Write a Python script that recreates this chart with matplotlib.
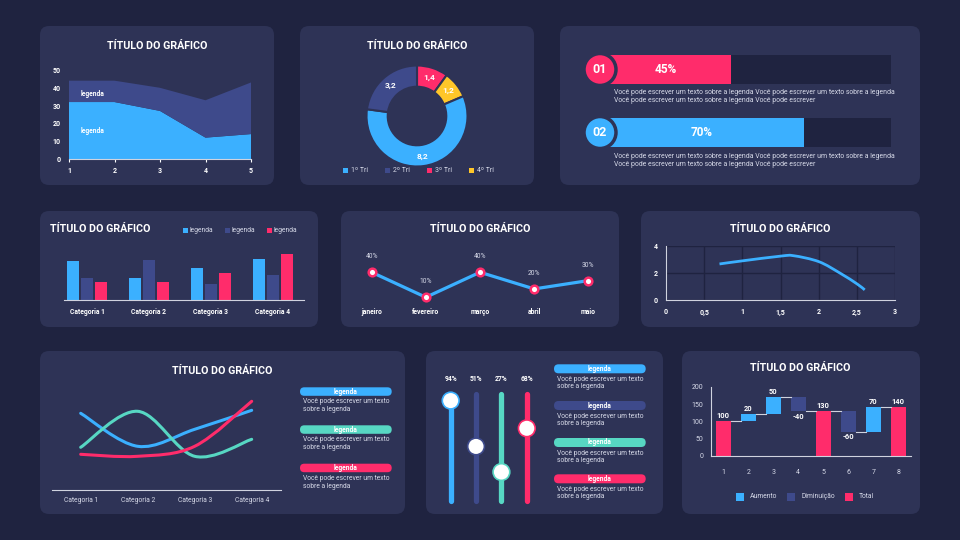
import numpy as np
import matplotlib.pyplot as plt
from matplotlib.patches import FancyBboxPatch, Rectangle, PathPatch
from matplotlib.path import Path

plt.rcParams['font.family'] = ['Roboto', 'DejaVu Sans']

# colours
BG = '#1f2340'
PANEL = '#2e3356'
BLUE = '#3bb0ff'
DBLUE = '#3e4a8b'
PINK = '#ff2c6b'
TEAL = '#57d7c3'
YELLOW = '#ffc629'
WHITE = '#ffffff'
SUB = '#d6d9e8'
AXIS = '#d0d3df'

TITLE = 'TÍTULO DO GRÁFICO'
DESC_SHORT = ['Você pode escrever um texto', 'sobre a legenda']
DESC_LONG = ['Você pode escrever um texto sobre a legenda Você pode escrever um texto sobre a legenda',
             'Você pode escrever um texto sobre a legenda Você pode escrever']

# ---- data ----
# area chart
area_x = [1, 2, 3, 4, 5]
area_s1 = [32, 32, 27, 12, 14]
area_s2 = [12, 12, 13, 21, 29]

# donut
tri_labels = ['1º Tri', '2º Tri', '3º Tri', '4º Tri']
tri_values = [8.2, 3.2, 1.4, 1.2]

# progress bars
prog_ids = ['01', '02']
prog_values = [45, 70]

# grouped bars
cat_labels = ['Categoria 1', 'Categoria 2', 'Categoria 3', 'Categoria 4']
grp_blue = [39, 22, 32, 41]
grp_dark = [22, 40, 16, 25]
grp_pink = [18, 18, 27, 46]

# line with markers
months = ['janeiro', 'fevereiro', 'março', 'abril', 'maio']
month_values = [40, 10, 40, 20, 30]

# smooth curve (scatter with smooth line)
curve_x = [0.7, 1.0, 1.5, 1.67, 2.0, 2.28, 2.5, 2.6]
curve_y = [2.67, 2.9, 3.25, 3.28, 2.84, 1.98, 1.19, 0.75]
curve_xticks = [0, 0.5, 1, 1.5, 2, 2.5, 3]
curve_yticks = [0, 2, 4]

# smooth lines
sl_blue = [7.7, 4.4, 6.1, 8.0]
sl_teal = [4.3, 7.9, 3.4, 5.1]
sl_pink = [3.6, 3.4, 4.4, 8.9]

# sliders
slider_values = [94, 51, 27, 68]

# waterfall
wf_steps = [100, 20, 50, -40, 130, -60, 70, 140]
wf_kind = ['total', 'inc', 'inc', 'dec', 'total', 'dec', 'inc', 'total']
wf_legend = ['Aumento', 'Diminuição', 'Total']

W, H = 960, 540
fig = plt.figure(figsize=(9.6, 5.4), dpi=100, facecolor=BG)
bg = fig.add_axes([0, 0, 1, 1])
bg.set_xlim(0, W)
bg.set_ylim(H, 0)
bg.axis('off')


def ax_at(l, t, r, b):
    a = fig.add_axes([l / W, 1 - b / H, (r - l) / W, (b - t) / H])
    a.patch.set_alpha(0)
    for s in a.spines.values():
        s.set_visible(False)
    return a


def panel(x0, y0, x1, y1):
    bg.add_patch(FancyBboxPatch((x0, y0), x1 - x0, y1 - y0,
                                boxstyle='round,pad=0,rounding_size=9',
                                fc=PANEL, ec='none'))


def title(x, y, ha='center'):
    bg.text(x, y, TITLE, color=WHITE, fontsize=7.7, fontweight='bold',
            ha=ha, va='center')


def pill(x0, y0, x1, y1, color, label='legenda'):
    h = y1 - y0
    bg.add_patch(FancyBboxPatch((x0, y0), x1 - x0, h,
                                boxstyle=f'round,pad=0,rounding_size={h / 2}',
                                fc=color, ec='none'))
    bg.text((x0 + x1) / 2, (y0 + y1) / 2, label, color=WHITE, fontsize=4.8,
            fontweight='bold', ha='center', va='center')


def desc(x, y, lines, step=7.5, size=4.9):
    for i, ln in enumerate(lines):
        bg.text(x, y + i * step, ln, color=SUB, fontsize=size, ha='left', va='center')


def smooth(xs, ys):
    p = np.column_stack([xs, ys]).astype(float)
    pts = np.vstack([p[0], p, p[-1]])
    verts = [p[0]]
    codes = [Path.MOVETO]
    for i in range(1, len(pts) - 2):
        c1 = pts[i] + (pts[i + 1] - pts[i - 1]) / 6
        c2 = pts[i + 1] - (pts[i + 2] - pts[i]) / 6
        verts += [c1, c2, pts[i + 1]]
        codes += [Path.CURVE4] * 3
    return Path(verts, codes)


def tick_style(a, size=5, weight='bold', color=WHITE):
    a.tick_params(colors=color, labelsize=size)
    for lb in a.get_xticklabels() + a.get_yticklabels():
        lb.set_fontweight(weight)


# panels
panel(40, 26, 274, 185)
panel(300, 26, 534, 185)
panel(560, 26, 920, 185)
panel(40, 211, 318, 327)
panel(341, 211, 619, 327)
panel(641, 211, 920, 327)
panel(40, 351, 405, 514)
panel(426, 351, 663, 514)
panel(682, 351, 920, 514)

# ---- 1: stacked area ----
title(157, 46)
ax1 = ax_at(69, 70, 251, 159)
ax1.stackplot(area_x, area_s1, area_s2, colors=[BLUE, DBLUE])
ax1.set_xlim(1, 5)
ax1.set_ylim(0, 50)
ax1.set_xticks(area_x)
ax1.set_yticks(range(0, 51, 10))
ax1.spines['bottom'].set_visible(True)
ax1.spines['bottom'].set_color(AXIS)
ax1.tick_params(axis='x', length=2, color=AXIS, pad=4)
ax1.tick_params(axis='y', length=0, pad=6)
tick_style(ax1)
ax1.text(1.26, 36.7, 'legenda', color=WHITE, fontsize=4.8, fontweight='bold', va='center')
ax1.text(1.26, 15.9, 'legenda', color=WHITE, fontsize=4.8, fontweight='bold', va='center')

# ---- 2: donut ----
title(417, 46)
ax2 = ax_at(366.5, 65.5, 467.5, 166.5)
tri_colors = [BLUE, DBLUE, PINK, YELLOW]
order = [2, 3, 0, 1]
wedges, texts = ax2.pie([tri_values[i] for i in order],
                        colors=[tri_colors[i] for i in order],
                        labels=[f'{tri_values[i]:g}'.replace('.', ',') for i in order],
                        labeldistance=0.8, startangle=90, counterclock=False,
                        wedgeprops=dict(width=0.42, edgecolor=PANEL, linewidth=1.5),
                        textprops=dict(color=WHITE, fontsize=6, fontweight='bold',
                                       ha='center', va='center'))
ax2.set_xlim(-1, 1)
ax2.set_ylim(-1, 1)
for i, (lab, col) in enumerate(zip(tri_labels, tri_colors)):
    x = 345.7 + i * 42
    bg.add_patch(Rectangle((x - 2.5, 167.5), 5, 5, fc=col, ec='none'))
    bg.text(x + 5, 170, lab, color=SUB, fontsize=5, va='center', ha='left')

# ---- 3: progress bars ----
ax3 = ax_at(600, 40, 891, 162)
prog_colors = [PINK, BLUE]
ypos = np.arange(len(prog_values))
ax3.barh(ypos, [100] * len(prog_values), height=0.46, color=BG)
ax3.barh(ypos, prog_values, height=0.46, color=prog_colors)
ax3.scatter([0] * len(prog_values), ypos, s=530, c=prog_colors, edgecolors=PANEL,
            linewidths=2.5, zorder=3, clip_on=False)
for y, v, pid in zip(ypos, prog_values, prog_ids):
    ax3.text(0, y, pid, color=WHITE, fontsize=9, fontweight='bold',
             ha='center', va='center', zorder=4)
    ax3.text(v / 2, y, f'{v}%', color=WHITE, fontsize=8.5, fontweight='bold',
             ha='center', va='center')
ax3.set_xlim(0, 100)
ax3.set_ylim(1.468, -0.468)
ax3.set_xticks([])
ax3.set_yticks([])
desc(614, 92, DESC_LONG, step=8, size=4.95)
desc(614, 156, DESC_LONG, step=8, size=4.95)

# ---- 4: grouped bars ----
title(50, 229, ha='left')
for i, (lab, col) in enumerate(zip(['legenda'] * 3, [BLUE, DBLUE, PINK])):
    x = 185.7 + i * 41.7
    bg.add_patch(Rectangle((x - 2.5, 227.5), 5, 5, fc=col, ec='none'))
    bg.text(x + 4, 230, lab, color=SUB, fontsize=4.9, va='center', ha='left')
ax4 = ax_at(64, 250, 304, 300)
xc = np.arange(len(cat_labels))
for off, vals, col in zip([-0.226, 0, 0.226], [grp_blue, grp_dark, grp_pink], [BLUE, DBLUE, PINK]):
    ax4.bar(xc + off, vals, width=0.18, color=col)
ax4.set_xlim(-0.37, 3.5)
ax4.set_ylim(0, 50)
ax4.set_xticks(xc)
ax4.set_xticklabels(cat_labels)
ax4.set_yticks([])
ax4.spines['bottom'].set_visible(True)
ax4.spines['bottom'].set_color(AXIS)
ax4.tick_params(axis='x', length=0, pad=6)
tick_style(ax4, size=4.9)

# ---- 5: line with markers ----
title(480, 229)
ax5 = ax_at(350, 250, 610, 305.6)
xm = np.arange(len(months))
ax5.plot(xm, month_values, color=BLUE, lw=2.3, marker='o', ms=5.5, mfc=WHITE,
         mec=PINK, mew=1.8, solid_joinstyle='round')
for x, v in zip(xm, month_values):
    ax5.annotate(f'{v}%', (x, v), xytext=(0, 11), textcoords='offset points',
                 color=SUB, fontsize=4.9, ha='center', va='center')
ax5.set_xlim(-0.4, 4.4)
ax5.set_ylim(0, 66.7)
ax5.set_xticks(xm)
ax5.set_xticklabels(months)
ax5.set_yticks([])
ax5.tick_params(axis='x', length=0, pad=1.5)
tick_style(ax5, size=4.9)

# ---- 6: smooth curve with grid ----
title(780, 229)
ax6 = ax_at(666, 246, 895.3, 300)
ax6.add_patch(PathPatch(smooth(curve_x, curve_y), fc='none', ec=BLUE, lw=2))
ax6.set_xlim(0, 3)
ax6.set_ylim(0, 4)
ax6.set_xticks(curve_xticks)
ax6.set_xticklabels([f'{v:g}'.replace('.', ',') for v in curve_xticks])
ax6.set_yticks(curve_yticks)
ax6.grid(True, color=BG, lw=1)
ax6.set_axisbelow(True)
for s in ['bottom', 'left']:
    ax6.spines[s].set_visible(True)
    ax6.spines[s].set_color(AXIS)
ax6.tick_params(length=0)
ax6.tick_params(axis='x', pad=6)
ax6.tick_params(axis='y', pad=6)
tick_style(ax6, size=5)

# ---- 7: smooth lines ----
title(222.7, 370.7)
ax7 = ax_at(52.3, 380.3, 280.7, 490.3)
xs7 = np.arange(len(cat_labels))
for vals, col in zip([sl_blue, sl_teal, sl_pink], [BLUE, TEAL, PINK]):
    ax7.add_patch(PathPatch(smooth(xs7, vals), fc='none', ec=col, lw=2.2, capstyle='round'))
ax7.set_xlim(-0.498, 3.509)
ax7.set_ylim(0, 11)
ax7.set_xticks(xs7)
ax7.set_xticklabels(cat_labels)
ax7.set_yticks([])
ax7.spines['bottom'].set_visible(True)
ax7.spines['bottom'].set_color(AXIS)
ax7.tick_params(axis='x', length=0, pad=5)
tick_style(ax7, size=4.9, weight='normal', color=SUB)
for y0, col in zip([387.3, 425.3, 463.7], [BLUE, TEAL, PINK]):
    pill(300, y0, 391.7, y0 + 8.5, col)
    desc(303, y0 + 14.5, DESC_SHORT, step=8)

# ---- 8: sliders ----
ax8 = ax_at(440, 394.2, 540, 500.8)
slider_colors = [BLUE, DBLUE, TEAL, PINK]
xs8 = np.arange(len(slider_values))
for x, v, col in zip(xs8, slider_values, slider_colors):
    ax8.plot([x, x], [0, 100], color=col, lw=3.8, solid_capstyle='round', clip_on=False)
    ax8.annotate(f'{v}%', (x, 100), xytext=(0, 11), textcoords='offset points',
                 color=WHITE, fontsize=4.9, fontweight='bold', ha='center', va='center')
ax8.scatter(xs8, slider_values, s=145, c=WHITE, edgecolors=slider_colors,
            linewidths=1.2, zorder=3, clip_on=False)
ax8.set_xlim(-0.42, 3.52)
ax8.set_ylim(0, 100)
ax8.set_xticks([])
ax8.set_yticks([])
for y0, col in zip([364.3, 401, 438, 474.3], slider_colors):
    pill(554, y0, 645.7, y0 + 9, col)
    desc(557, y0 + 15.2, DESC_SHORT, step=7.3)

# ---- 9: waterfall ----
title(800, 368)
ax9 = ax_at(711, 386.7, 911, 456)
running = 0
bottoms, heights, colors, ends = [], [], [], []
for v, k in zip(wf_steps, wf_kind):
    if k == 'total':
        bottoms.append(0)
        heights.append(v)
        colors.append(PINK)
        running = v
    else:
        bottoms.append(min(running, running + v))
        heights.append(abs(v))
        colors.append(BLUE if k == 'inc' else DBLUE)
        running += v
    ends.append(running)
xs9 = np.arange(1, len(wf_steps) + 1)
ax9.bar(xs9, heights, bottom=bottoms, width=0.6, color=colors, zorder=2)
for i in range(len(xs9) - 1):
    ax9.plot([xs9[i] + 0.3, xs9[i + 1] - 0.3], [ends[i], ends[i]], color=AXIS, lw=0.8)
for x, v, b, h in zip(xs9, wf_steps, bottoms, heights):
    if v < 0:
        ax9.annotate(f'{v}', (x, b), xytext=(0, -4), textcoords='offset points',
                     color=WHITE, fontsize=5.4, fontweight='bold', ha='center', va='center')
    else:
        ax9.annotate(f'{v}', (x, b + h), xytext=(0, 3.6), textcoords='offset points',
                     color=WHITE, fontsize=5.4, fontweight='bold', ha='center', va='center')
ax9.set_xlim(0.508, 8.508)
ax9.set_ylim(0, 200)
ax9.set_xticks(xs9)
ax9.set_yticks(range(0, 201, 50))
for s in ['bottom', 'left']:
    ax9.spines[s].set_visible(True)
    ax9.spines[s].set_color(AXIS)
ax9.tick_params(length=0)
ax9.tick_params(axis='x', pad=9)
ax9.tick_params(axis='y', pad=5.5)
tick_style(ax9, size=5, weight='normal', color=SUB)
for lab, col, x in zip(wf_legend, [BLUE, DBLUE, PINK], [740, 791, 849]):
    bg.add_patch(Rectangle((x - 4, 492.7), 8, 8, fc=col, ec='none'))
    bg.text(x + 10, 496.7, lab, color=SUB, fontsize=4.9, va='center', ha='left')

fig.savefig('out.png', dpi=100, facecolor=BG)
